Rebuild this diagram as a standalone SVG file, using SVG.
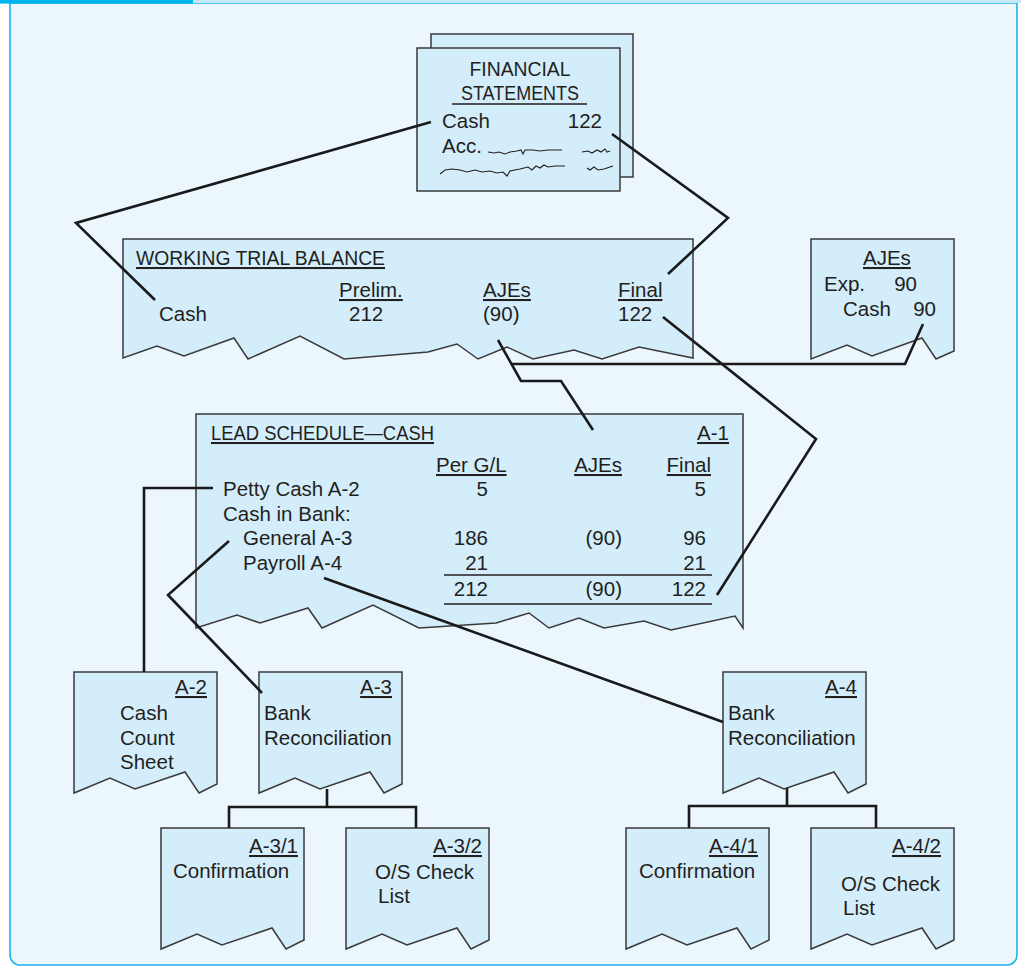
<svg xmlns="http://www.w3.org/2000/svg" xmlns:xlink="http://www.w3.org/1999/xlink" width="1021" height="967" viewBox="0 0 1021 967">
<style>
.doc{fill:#D4EDFA;stroke:#3a3a3a;stroke-width:1.5;stroke-linejoin:miter}
.t{font-family:"Liberation Sans",Arial,sans-serif;font-size:20.5px;fill:#231F20}
.u{text-decoration:underline}
.e{text-anchor:end}
.m{text-anchor:middle}
.con{fill:none;stroke:#1a1a1a;stroke-width:2.6;stroke-linejoin:miter}
.rule{stroke:#231F20;stroke-width:1.3}
.sq{fill:none;stroke:#231F20;stroke-width:1.1}
</style>
<defs>
<path id="doc" d="M0,0 H143 V112 L125,121 L111,100 L61,117 L36,106 L0,121 Z"/>
</defs>
<rect x="0" y="0" width="1021" height="967" fill="#FFFFFF"/>
<g id="frame">
<path d="M10,3 V955 A10,10 0 0 0 20,965 H1007 A10,10 0 0 0 1017,955 V3 Z" fill="#EBF6FD" stroke="#1CB5EE" stroke-width="1.6"/>
<rect x="0" y="0" width="1021" height="3" fill="#C6E8F8"/>
<rect x="0" y="0" width="193" height="3.6" fill="#00B2EE"/>
</g>
<g id="financial-statements">
<rect class="doc" x="431" y="34" width="202" height="143"/>
<rect class="doc" x="417" y="48" width="203" height="143"/>
<text class="t m" x="520" y="76" textLength="101" lengthAdjust="spacingAndGlyphs">FINANCIAL</text>
<text class="t m" x="520" y="100" textLength="118" lengthAdjust="spacingAndGlyphs">STATEMENTS</text>
<line class="rule" x1="452" y1="104" x2="587" y2="104"/>
<text class="t" x="442" y="128">Cash</text>
<text class="t e" x="602" y="128">122</text>
<text class="t" x="442" y="153">Acc.</text>
<path class="sq" d="M488,152 L494,153 L499,152 L505,154 L510,152 L517,151 L521,150 L523,154 L525,150 L533,150 L540,151 L548,150 L562,150"/>
<path class="sq" d="M582,152 L588,151 L592,153 L597,150 L601,152 L605,149 L607,152 L610,151"/>
<path class="sq" d="M440,174 L445,170 L452,169 L460,170 L467,172 L475,170 L482,172 L490,171 L497,173 L503,172 L507,176 L510,171 L520,169 L528,167 L532,170 L536,166 L540,168 L544,165 L548,167 L555,166 L565,166"/>
<path class="sq" d="M587,168 L590,170 L594,167 L598,170 L604,169 L613,166"/>
</g>
<g id="working-trial-balance">
<path class="doc" d="M123,239 H693 V358 L639,347 L602,359 L574,350 L533,359 L507,347 L478,359 L457,344 L428,352 L344,359 L300,336 L248,359 L234,338 L184,356 L157,346 L123,358 Z"/>
<text class="t u" x="136" y="265" textLength="249" lengthAdjust="spacingAndGlyphs">WORKING TRIAL BALANCE</text>
<text class="t u" x="339" y="297">Prelim.</text>
<text class="t u" x="483" y="297">AJEs</text>
<text class="t u" x="618" y="297">Final</text>
<text class="t" x="159" y="321">Cash</text>
<text class="t" x="349" y="321">212</text>
<text class="t" x="483" y="321">(90)</text>
<text class="t" x="618" y="321">122</text>
</g>
<g id="ajes">
<path class="doc" d="M811,239 H954 V351 L936,359 L922,338 L872,356 L847,345 L811,359 Z"/>
<text class="t u" x="863" y="265">AJEs</text>
<text class="t" x="824" y="291">Exp.</text>
<text class="t e" x="917" y="291">90</text>
<text class="t" x="843" y="316">Cash</text>
<text class="t e" x="936" y="316">90</text>
</g>
<g id="lead-schedule">
<path class="doc" d="M196,414 H743 V628 L735,616 L671,630 L644,621 L604,628 L579,618 L549,628 L529,613 L496,623 L419,628 L373,605 L322,628 L308,608 L260,623 L237,615 L196,628 Z"/>
<text class="t u" x="211" y="440" textLength="223" lengthAdjust="spacingAndGlyphs">LEAD SCHEDULE—CASH</text>
<text class="t u e" x="729" y="440">A-1</text>
<text class="t u" x="436" y="472">Per G/L</text>
<text class="t u e" x="622" y="472">AJEs</text>
<text class="t u e" x="711" y="472">Final</text>
<text class="t" x="223" y="496">Petty Cash A-2</text>
<text class="t e" x="488" y="496">5</text>
<text class="t e" x="706" y="496">5</text>
<text class="t" x="223" y="521">Cash in Bank:</text>
<text class="t" x="243" y="545">General A-3</text>
<text class="t e" x="488" y="545">186</text>
<text class="t e" x="622" y="545">(90)</text>
<text class="t e" x="706" y="545">96</text>
<text class="t" x="243" y="570">Payroll A-4</text>
<text class="t e" x="488" y="570">21</text>
<text class="t e" x="706" y="570">21</text>
<line class="rule" x1="444" y1="575" x2="712" y2="575"/>
<text class="t e" x="488" y="596">212</text>
<text class="t e" x="622" y="596">(90)</text>
<text class="t e" x="706" y="596">122</text>
<line class="rule" x1="444" y1="604" x2="712" y2="604"/>
</g>
<g id="a-2">
<use xlink:href="#doc" href="#doc" class="doc" transform="translate(74,672)"/>
<text class="t u e" x="207" y="694">A-2</text>
<text class="t" x="120" y="720">Cash</text>
<text class="t" x="120" y="745">Count</text>
<text class="t" x="120" y="769">Sheet</text>
</g>
<g id="a-3">
<use xlink:href="#doc" href="#doc" class="doc" transform="translate(259,672)"/>
<text class="t u e" x="392" y="694">A-3</text>
<text class="t" x="264" y="720">Bank</text>
<text class="t" x="264" y="745">Reconciliation</text>
</g>
<g id="a-4">
<use xlink:href="#doc" href="#doc" class="doc" transform="translate(723,672)"/>
<text class="t u e" x="857" y="694">A-4</text>
<text class="t" x="728" y="720">Bank</text>
<text class="t" x="728" y="745">Reconciliation</text>
</g>
<g id="a-3-1">
<use xlink:href="#doc" href="#doc" class="doc" transform="translate(161,828)"/>
<text class="t u e" x="298" y="853">A-3/1</text>
<text class="t" x="173" y="878">Confirmation</text>
</g>
<g id="a-3-2">
<use xlink:href="#doc" href="#doc" class="doc" transform="translate(346,828)"/>
<text class="t u e" x="482" y="853">A-3/2</text>
<text class="t" x="375" y="879">O/S Check</text>
<text class="t" x="378" y="903">List</text>
</g>
<g id="a-4-1">
<use xlink:href="#doc" href="#doc" class="doc" transform="translate(626,828)"/>
<text class="t u e" x="758" y="853">A-4/1</text>
<text class="t" x="639" y="878">Confirmation</text>
</g>
<g id="a-4-2">
<use xlink:href="#doc" href="#doc" class="doc" transform="translate(811,828)"/>
<text class="t u e" x="941" y="853">A-4/2</text>
<text class="t" x="841" y="891">O/S Check</text>
<text class="t" x="843" y="915">List</text>
</g>
<g id="connectors">
<polyline class="con" points="431,122 76,223 155,300"/>
<polyline class="con" points="612,134 728,218 668,274"/>
<polyline class="con" points="498,340 521,381 561,381 593,430"/>
<polyline class="con" points="512,364 905,364 923,324"/>
<polyline class="con" points="663,317 816,439 717,595"/>
<polyline class="con" points="213,488 144,488 144,672"/>
<polyline class="con" points="229,541 168,595 262,693"/>
<polyline class="con" points="324,578 723,722"/>
<polyline class="con" points="327,789 327,807"/>
<polyline class="con" points="229,828 229,807 416,807 416,828"/>
<polyline class="con" points="787,788 787,806"/>
<polyline class="con" points="689,828 689,806 876,806 876,828"/>
</g>
</svg>
